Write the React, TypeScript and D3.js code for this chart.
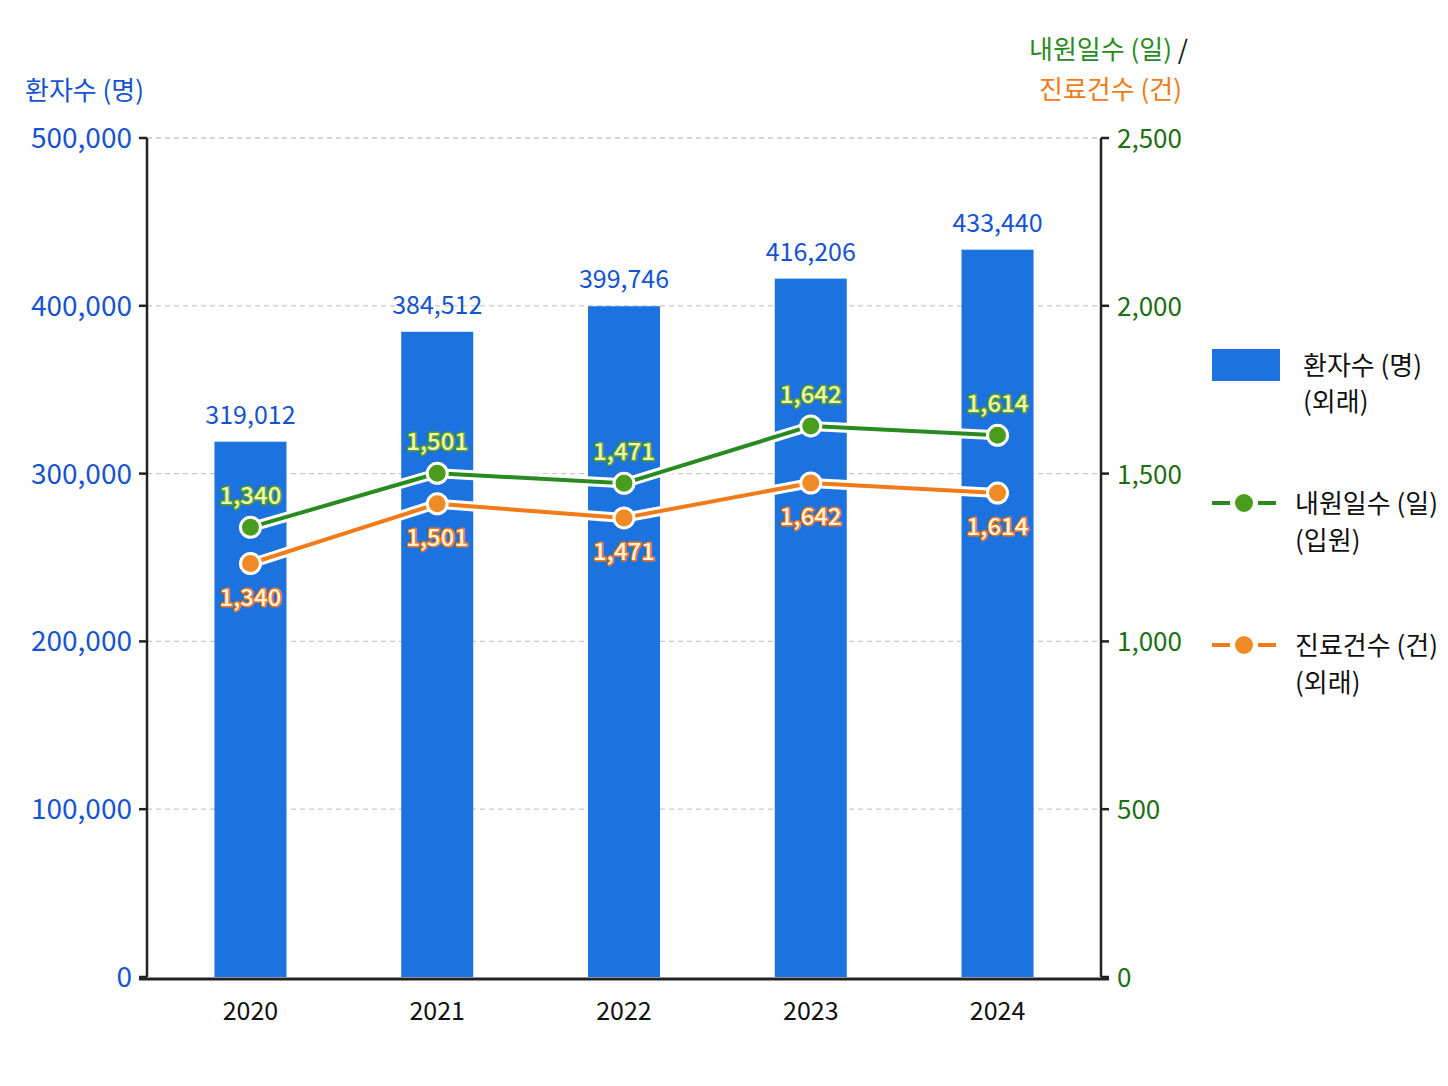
import React from "react";
import * as d3 from "d3";

const years = ["2020", "2021", "2022", "2023", "2024"];
const patients = [319012, 384512, 399746, 416206, 433440];
const inpatientDays = [1340, 1501, 1471, 1642, 1614];
const inpatientLabels = ["1,340", "1,501", "1,471", "1,642", "1,614"];
// orange markers are drawn lower than their printed labels in the reference
const treatmentPlotted = [1232, 1410, 1368, 1472, 1442];
const treatmentLabels = ["1,340", "1,501", "1,471", "1,642", "1,614"];
const leftTicks = [0, 100000, 200000, 300000, 400000, 500000];
const rightTicks = [0, 500, 1000, 1500, 2000, 2500];

const W = 1448;
const H = 1086;
const FONT = "'Noto Sans CJK KR', 'Noto Sans', sans-serif";
const BLUE_BAR = "#1c72de";
const BLUE_TXT = "#1553d0";
const GREEN = "#2a8a22";
const GREEN_DOT = "#4a9c1c";
const ORANGE = "#f07b18";
const ORANGE_DOT = "#f08a25";
const DKGREEN = "#1d6f12";

export default function App() {
  const x0 = 147, x1 = 1101, yTop = 138, yBot = 977;
  const x = d3.scalePoint<string>().domain(years).range([x0, x1]).padding(0.554);
  const yL = d3.scaleLinear().domain([0, 500000]).range([yBot, yTop]);
  const yR = d3.scaleLinear().domain([0, 2500]).range([yBot, yTop]);
  const fmt = d3.format(",");
  const barW = 72;

  const greenLine = d3
    .line<number>()
    .x((_, i) => x(years[i])!)
    .y((d) => yR(d))(inpatientDays)!;
  const orangeLine = d3
    .line<number>()
    .x((_, i) => x(years[i])!)
    .y((d) => yR(d))(treatmentPlotted)!;

  return (
    <svg width={W} height={H} style={{ position: "absolute", left: 0, top: 0, background: "#fff" }} fontFamily={FONT}>
      <rect x={0} y={0} width={W} height={H} fill="#fff" />
      {/* grid */}
      {leftTicks.slice(1).map((t) => (
        <line key={t} x1={x0} x2={x1} y1={yL(t)} y2={yL(t)} stroke="#c8c8c8" strokeWidth={1.3} strokeDasharray="5,4" />
      ))}
      {/* bars */}
      {patients.map((v, i) => (
        <g key={years[i]}>
          <rect x={x(years[i])! - barW / 2} y={yL(v)} width={barW} height={yBot - yL(v)} fill={BLUE_BAR} />
          <text x={x(years[i])!} y={yL(v) - 18} textAnchor="middle" fontSize={25} fill={BLUE_TXT}>
            {fmt(v)}
          </text>
        </g>
      ))}
      {/* axes */}
      <line x1={x0} x2={x0} y1={yTop} y2={yBot} stroke="#222" strokeWidth={2.5} />
      <line x1={x1} x2={x1} y1={yTop} y2={yBot} stroke="#222" strokeWidth={2.5} />
      <line x1={x0 - 8} x2={x1 + 8} y1={yBot + 2} y2={yBot + 2} stroke="#222" strokeWidth={3} />
      {leftTicks.map((t) => (
        <g key={"l" + t}>
          <line x1={x0 - 8} x2={x0} y1={yL(t)} y2={yL(t)} stroke="#222" strokeWidth={2.5} />
          <text x={x0 - 15} y={yL(t) + 10} textAnchor="end" fontSize={28} fill={BLUE_TXT}>
            {fmt(t)}
          </text>
        </g>
      ))}
      {rightTicks.map((t) => (
        <g key={"r" + t}>
          <line x1={x1} x2={x1 + 8} y1={yR(t)} y2={yR(t)} stroke="#222" strokeWidth={2.5} />
          <text x={x1 + 16} y={yR(t) + 10} textAnchor="start" fontSize={26} fill={DKGREEN}>
            {fmt(t)}
          </text>
        </g>
      ))}
      {years.map((yr) => (
        <text key={yr} x={x(yr)!} y={1020} textAnchor="middle" fontSize={25} fill="#111">
          {yr}
        </text>
      ))}
      {/* axis titles */}
      <text x={25} y={100} fontSize={26} fill={BLUE_TXT}>환자수 (명)</text>
      <text x={1188} y={59} textAnchor="end" fontSize={26}>
        <tspan fill={GREEN}>내원일수 (일) </tspan>
        <tspan fill="#111">/</tspan>
      </text>
      <text x={1182} y={99} textAnchor="end" fontSize={26} fill={ORANGE}>진료건수 (건)</text>

      {/* lines */}
      <path d={greenLine} fill="none" stroke="#fff" strokeWidth={10} strokeLinejoin="round" />
      <path d={orangeLine} fill="none" stroke="#fff" strokeWidth={10} strokeLinejoin="round" />
      <path d={greenLine} fill="none" stroke={GREEN} strokeWidth={4} strokeLinejoin="round" />
      <path d={orangeLine} fill="none" stroke={ORANGE} strokeWidth={4} strokeLinejoin="round" />
      {inpatientDays.map((v, i) => (
        <circle key={"g" + i} cx={x(years[i])!} cy={yR(v)} r={10} fill={GREEN_DOT} stroke="#fff" strokeWidth={3} />
      ))}
      {treatmentPlotted.map((v, i) => (
        <circle key={"o" + i} cx={x(years[i])!} cy={yR(v)} r={10} fill={ORANGE_DOT} stroke="#fff" strokeWidth={3} />
      ))}
      {inpatientDays.map((v, i) => (
        <text
          key={"gl" + i}
          x={x(years[i])!}
          y={yR(v) - 23}
          textAnchor="middle"
          fontSize={24}
          fontWeight={500}
          fill="#eef8b8"
          stroke="#5c9e18"
          strokeWidth={3}
          paintOrder="stroke"
          strokeLinejoin="round"
        >
          {inpatientLabels[i]}
        </text>
      ))}
      {treatmentPlotted.map((v, i) => (
        <text
          key={"ol" + i}
          x={x(years[i])!}
          y={yR(v) + 42}
          textAnchor="middle"
          fontSize={24}
          fontWeight={500}
          fill="#fff4e4"
          stroke="#ee7410"
          strokeWidth={3}
          paintOrder="stroke"
          strokeLinejoin="round"
        >
          {treatmentLabels[i]}
        </text>
      ))}

      {/* legend */}
      <rect x={1212} y={349} width={68} height={32} fill={BLUE_BAR} />
      <text x={1303} y={375} fontSize={26} fill="#111">환자수 (명)</text>
      <text x={1303} y={411} fontSize={26} fill="#111">(외래)</text>

      <line x1={1212} x2={1276} y1={503} y2={503} stroke={GREEN} strokeWidth={4} strokeDasharray="18,10,8,10,18" />
      <circle cx={1244} cy={503} r={10} fill={GREEN_DOT} stroke="#fff" strokeWidth={2} />
      <text x={1295} y={513} fontSize={26} fill="#111">내원일수 (일)</text>
      <text x={1295} y={550} fontSize={26} fill="#111">(입원)</text>

      <line x1={1212} x2={1276} y1={645} y2={645} stroke={ORANGE} strokeWidth={4} strokeDasharray="18,10,8,10,18" />
      <circle cx={1244} cy={645} r={10} fill={ORANGE_DOT} stroke="#fff" strokeWidth={2} />
      <text x={1295} y={655} fontSize={26} fill="#111">진료건수 (건)</text>
      <text x={1295} y={692} fontSize={26} fill="#111">(외래)</text>
    </svg>
  );
}
